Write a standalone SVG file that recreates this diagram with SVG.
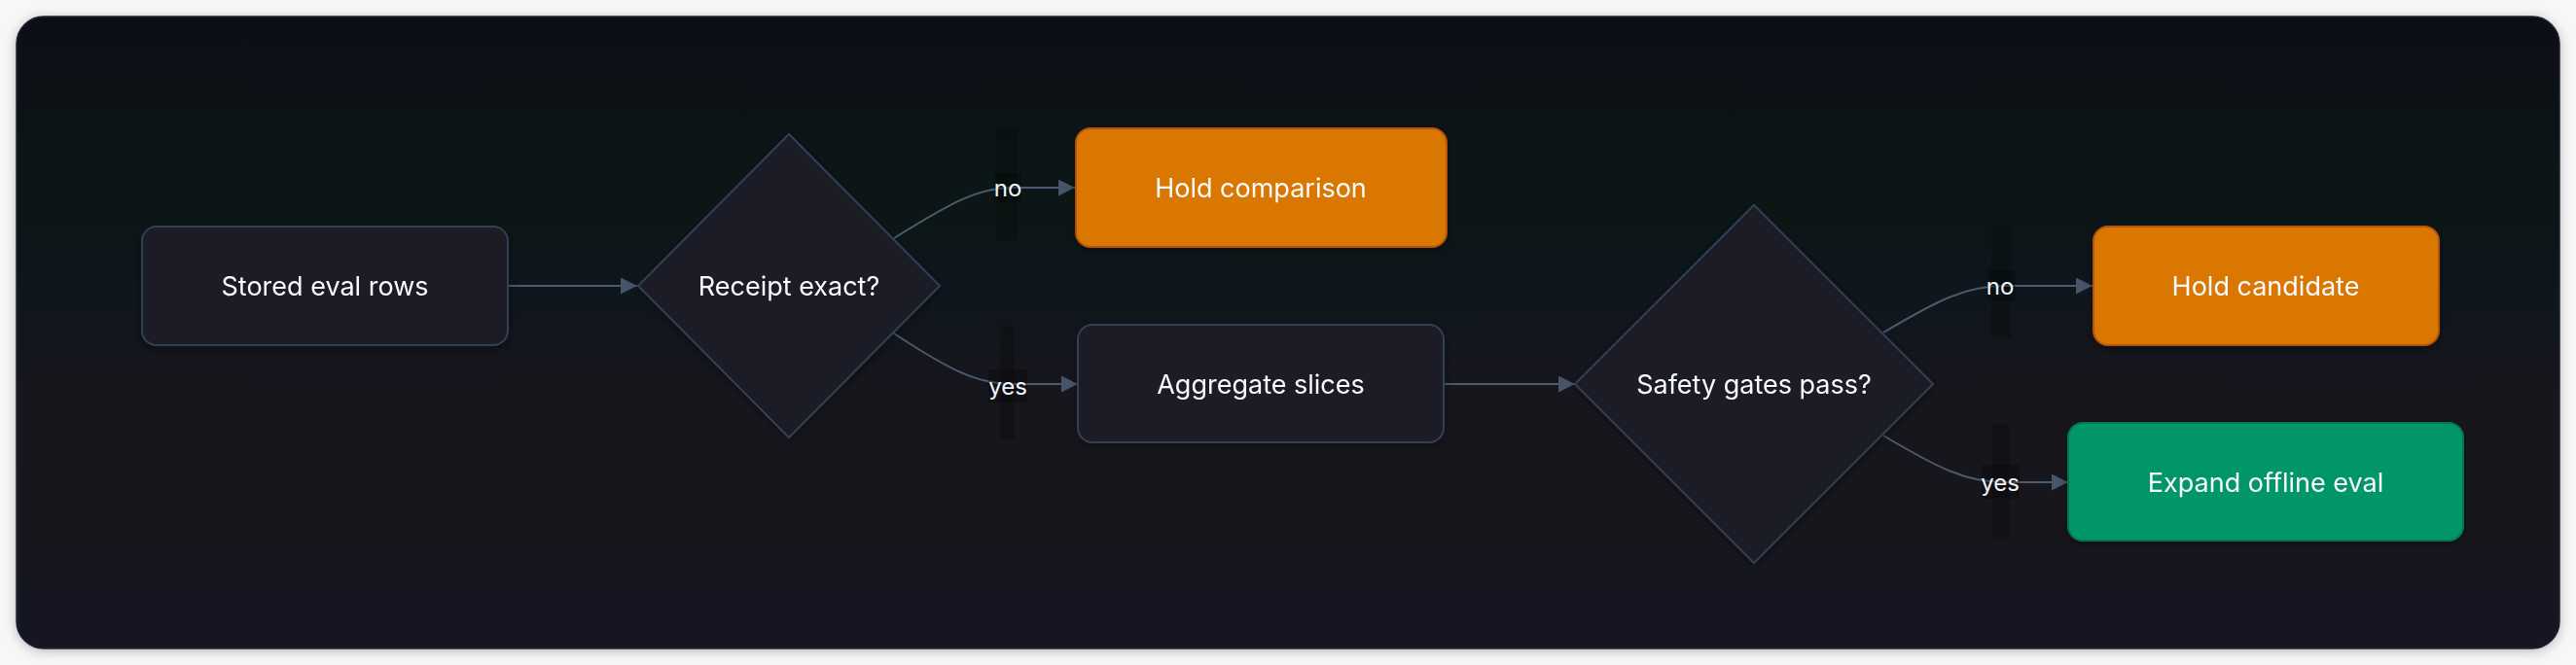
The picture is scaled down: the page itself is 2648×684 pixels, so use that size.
<svg xmlns="http://www.w3.org/2000/svg" width="2648" height="684" viewBox="0 0 2648 684">
  <defs>
    <linearGradient id="cardGrad" x1="0" y1="0" x2="0" y2="1">
      <stop offset="0" stop-color="#0f1115"/>
      <stop offset="1" stop-color="#141521"/>
    </linearGradient>
    <filter id="cardShadow" x="-5%" y="-10%" width="110%" height="120%">
      <feDropShadow dx="0" dy="2" stdDeviation="6" flood-color="#000" flood-opacity="0.25"/>
    </filter>
    <filter id="nodeShadow" x="-10%" y="-20%" width="120%" height="140%">
      <feDropShadow dx="0" dy="3" stdDeviation="5" flood-color="#000" flood-opacity="0.35"/>
    </filter>
    <marker id="arrow" viewBox="0 0 10 10" refX="10" refY="5" markerUnits="userSpaceOnUse" markerWidth="17" markerHeight="17" orient="auto">
      <path d="M0,0 L10,5 L0,10 z" fill="#475569"/>
    </marker>
    <style>
      .box { fill: #1b1b27; stroke: #334155; stroke-width: 2; }
      .warn { fill: #d97706; stroke: #b45309; stroke-width: 2; }
      .ok { fill: #059669; stroke: #047857; stroke-width: 2; }
      .dia { fill: #1b1b27; stroke: #334155; stroke-width: 2; }
      .lbl { font-family: Inter, "Noto Sans", "Liberation Sans", sans-serif; font-size: 27px; fill: #f8fafc; text-anchor: middle; dominant-baseline: central; }
      .elbl { font-family: Inter, "Noto Sans", "Liberation Sans", sans-serif; font-size: 24px; fill: #f1f5f9; text-anchor: middle; dominant-baseline: central; }
      .edge { fill: none; stroke: #4a5a6f; stroke-width: 2; marker-end: url(#arrow); }
      .bar { fill: #000; fill-opacity: 0.18; }
      .bar2 { fill: #000; fill-opacity: 0.22; }
    </style>
  </defs>

  <rect x="0" y="0" width="2648" height="684" fill="#f7f7f8"/>
  <rect x="17" y="17" width="2614" height="650" rx="28" fill="url(#cardGrad)" stroke="#1f2533" stroke-width="1.5" filter="url(#cardShadow)"/>

  <g id="connectors">
    <path class="edge" d="M522,294 L655,294"/>
    <path class="edge" d="M919,245 C975,210 1005,193 1040,193 L1105,193"/>
    <path class="edge" d="M919,343 C975,380 1005,395 1040,395 L1108,395"/>
    <path class="edge" d="M1484,395 L1619,395"/>
    <path class="edge" d="M1936,342 C1990,310 2020,294 2060,294 L2151,294"/>
    <path class="edge" d="M1936,448 C1990,480 2020,496 2060,496 L2126,496"/>
  </g>

  <g id="edge-labels">
    <g id="label-no-1">
      <rect class="bar" x="1024" y="133" width="22" height="114"/>
      <rect class="bar2" x="1022" y="178" width="28" height="30"/>
      <text class="elbl" x="1036" y="193">no</text>
    </g>
    <g id="label-yes-1">
      <rect class="bar" x="1028" y="335" width="15" height="117"/>
      <rect class="bar2" x="1016" y="380" width="40" height="34"/>
      <text class="elbl" x="1036" y="397">yes</text>
    </g>
    <g id="label-no-2">
      <rect class="bar" x="2047" y="233" width="20" height="115"/>
      <rect class="bar2" x="2042" y="278" width="30" height="32"/>
      <text class="elbl" x="2056" y="294">no</text>
    </g>
    <g id="label-yes-2">
      <rect class="bar" x="2048" y="436" width="17" height="117"/>
      <rect class="bar2" x="2037" y="478" width="39" height="35"/>
      <text class="elbl" x="2056" y="496">yes</text>
    </g>
  </g>

  <g id="node-stored" filter="url(#nodeShadow)">
    <rect class="box" x="146" y="233" width="376" height="122" rx="15"/>
    <text class="lbl" x="334" y="294">Stored eval rows</text>
  </g>
  <g id="node-receipt" filter="url(#nodeShadow)">
    <polygon class="dia" points="811,138 966,294 811,450 656,294"/>
    <text class="lbl" x="811" y="294">Receipt exact?</text>
  </g>
  <g id="node-hold-comparison" filter="url(#nodeShadow)">
    <rect class="warn" x="1106" y="132" width="381" height="122" rx="15"/>
    <text class="lbl" x="1296" y="193">Hold comparison</text>
  </g>
  <g id="node-aggregate" filter="url(#nodeShadow)">
    <rect class="box" x="1108" y="334" width="376" height="121" rx="15"/>
    <text class="lbl" x="1296" y="395">Aggregate slices</text>
  </g>
  <g id="node-safety" filter="url(#nodeShadow)">
    <polygon class="dia" points="1803,211 1987,395 1803,579 1619,395"/>
    <text class="lbl" x="1803" y="395">Safety gates pass?</text>
  </g>
  <g id="node-hold-candidate" filter="url(#nodeShadow)">
    <rect class="warn" x="2152" y="233" width="355" height="122" rx="15"/>
    <text class="lbl" x="2329" y="294">Hold candidate</text>
  </g>
  <g id="node-expand" filter="url(#nodeShadow)">
    <rect class="ok" x="2126" y="435" width="406" height="121" rx="15"/>
    <text class="lbl" x="2329" y="496">Expand offline eval</text>
  </g>
</svg>
